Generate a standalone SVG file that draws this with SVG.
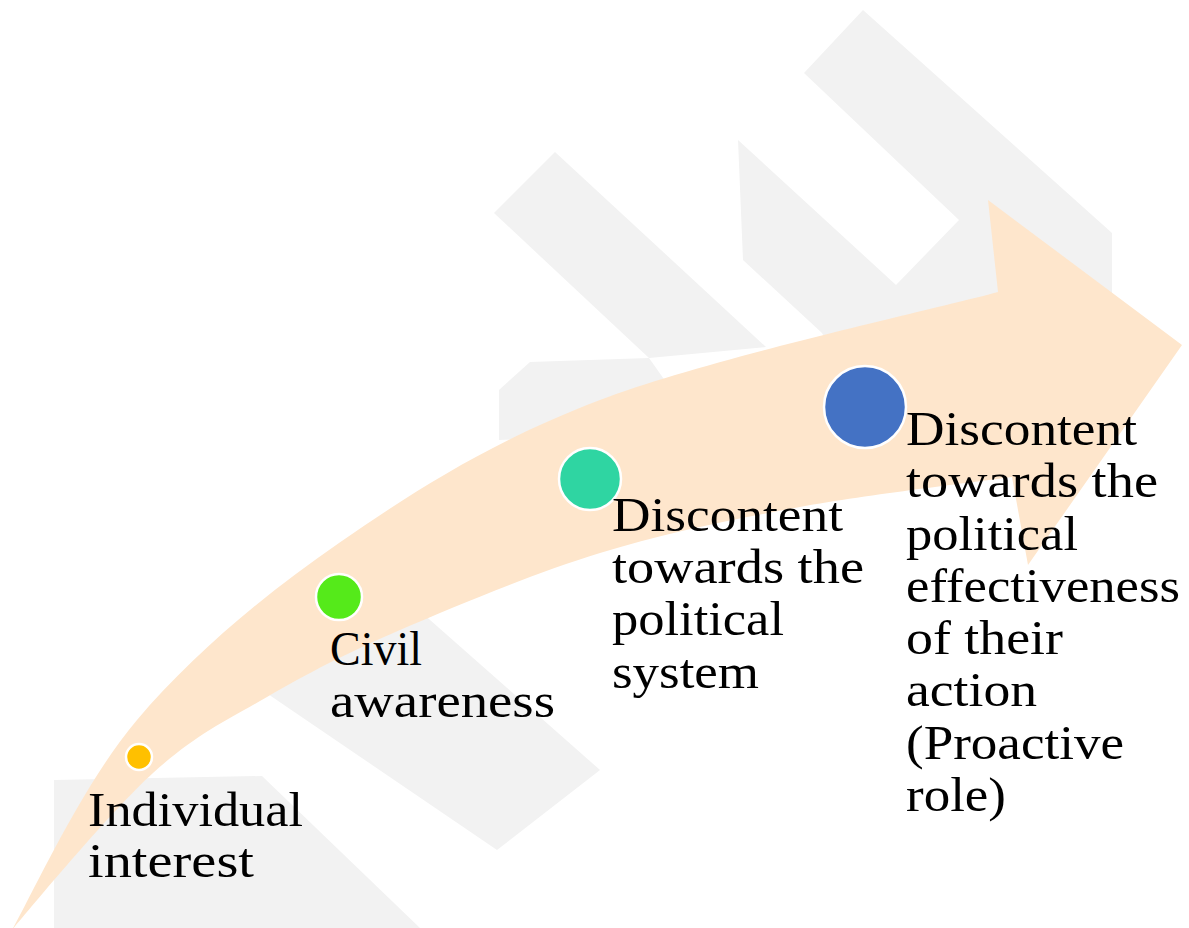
<svg xmlns="http://www.w3.org/2000/svg" width="1189" height="928" viewBox="0 0 1189 928">
  <style>
    .wm { fill: #F2F2F2; }
    .arrow { fill: #FEE6CC; }
    .dot { stroke: #FFFFFF; stroke-width: 2.5; }
    .lbl { font-family: "Liberation Serif", "Times New Roman", serif; font-size: 48px; fill: #000000; }
  </style>
  <rect width="1189" height="928" fill="#FFFFFF"/>
  <g id="watermark">
    <polygon class="wm" points="555,152 766,347 649,358 494,213"/>
    <polygon class="wm" points="738,140 896,285 959,220 804,73 863,10 1112,233 1112,440 880,450 822,333 743,260"/>
    <polygon class="wm" points="530,362 649,358 700,430 499,440 499,390"/>
    <polygon class="wm" points="54,780 262,776 420,928 54,928"/>
    <polygon class="wm" points="262,690 421,612 600,770 497,850"/>
  </g>
  <g id="connectors">
    <path id="arrow" class="arrow" d="M 12,930 C 32.8,893.3 82.5,784.2 137,720 C 191.5,655.8 261.8,596.3 339,543 C 416.2,489.7 490.2,441.8 600,400 C 709.8,358.2 931.7,310 998,292 L 988,200 L 1182,345 L 1028,565 L 1012,477 C 976.7,482 868.7,494.3 800,507 C 731.3,519.7 666.7,532.5 600,553 C 533.3,573.5 455.5,606 400,630 C 344.5,654 308.2,673.2 267,697 C 225.8,720.8 195.5,734.5 153,773 C 110.5,811.5 35.5,902.2 12,930 Z"/>
  </g>
  <g id="node-individual">
    <circle class="dot" cx="139" cy="757" r="13" fill="#FFC000"/>
    <text class="lbl"><tspan x="88" y="826" textLength="215" lengthAdjust="spacingAndGlyphs">Individual</tspan><tspan x="88" y="877" textLength="166" lengthAdjust="spacingAndGlyphs">interest</tspan></text>
  </g>
  <g id="node-civil">
    <circle class="dot" cx="339" cy="597" r="23" fill="#55EA1A"/>
    <text class="lbl"><tspan x="330" y="665" textLength="92" lengthAdjust="spacingAndGlyphs">Civil</tspan><tspan x="330" y="717" textLength="225" lengthAdjust="spacingAndGlyphs">awareness</tspan></text>
  </g>
  <g id="node-system">
    <circle class="dot" cx="590" cy="479" r="31" fill="#2FD5A2"/>
    <text class="lbl"><tspan x="612" y="531" textLength="231" lengthAdjust="spacingAndGlyphs">Discontent</tspan><tspan x="612" y="583" textLength="252" lengthAdjust="spacingAndGlyphs">towards the</tspan><tspan x="612" y="635" textLength="172" lengthAdjust="spacingAndGlyphs">political</tspan><tspan x="612" y="688" textLength="147" lengthAdjust="spacingAndGlyphs">system</tspan></text>
  </g>
  <g id="node-effectiveness">
    <circle class="dot" cx="865" cy="407" r="41" fill="#4472C4"/>
    <text class="lbl"><tspan x="906" y="445" textLength="231" lengthAdjust="spacingAndGlyphs">Discontent</tspan><tspan x="906" y="497" textLength="252" lengthAdjust="spacingAndGlyphs">towards the</tspan><tspan x="906" y="550" textLength="172" lengthAdjust="spacingAndGlyphs">political</tspan><tspan x="906" y="602" textLength="274" lengthAdjust="spacingAndGlyphs">effectiveness</tspan><tspan x="906" y="654" textLength="157" lengthAdjust="spacingAndGlyphs">of their</tspan><tspan x="906" y="706" textLength="131" lengthAdjust="spacingAndGlyphs">action</tspan><tspan x="906" y="759" textLength="218" lengthAdjust="spacingAndGlyphs">(Proactive</tspan><tspan x="906" y="811" textLength="100" lengthAdjust="spacingAndGlyphs">role)</tspan></text>
  </g>
</svg>
